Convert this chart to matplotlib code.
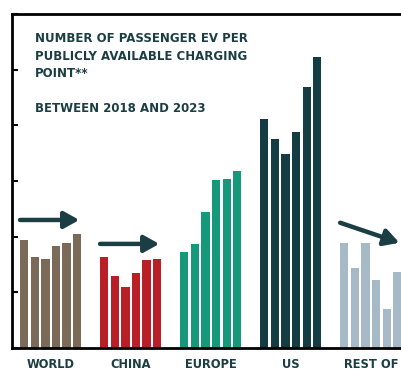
import numpy as np
import matplotlib.pyplot as plt

# Passenger EVs per public charging point, 2018-2023
regions = ["WORLD", "CHINA", "EUROPE", "US", "REST OF"]
world = [9.7, 8.2, 8.0, 9.2, 9.4, 10.2]
china = [8.2, 6.5, 5.5, 6.7, 7.9, 8.0]
europe = [8.6, 9.3, 12.2, 15.1, 15.2, 15.9]
us = [20.6, 18.8, 17.4, 19.4, 23.4, 26.1]
rest = [9.4, 7.2, 9.4, 6.1, 3.5, 6.8]
colors = ["#7b6a58", "#b81f27", "#16997a", "#133d42", "#a6b9c7"]

# trend arrows: (region index, start height, end height)
trends = [(0, 11.5, 11.5), (1, 9.35, 9.35), (4, 11.25, 9.45)]

series = [world, china, europe, us, rest]
group_step = 7.55
bar_w = 0.78
ink = "#1b3e44"

fig = plt.figure(figsize=(4.01, 3.73), dpi=100)
ax = fig.add_axes([12 / 401, 25 / 373, 389 / 401, 334 / 373])

for i, vals in enumerate(series):
    x = i * group_step + np.arange(len(vals))
    ax.bar(x, vals, width=bar_w, color=colors[i])
    ax.text(x.mean(), -0.9, regions[i], ha="center", va="top",
            fontsize=8.3, fontweight="bold", color=ink)

for i, y0, y1 in trends:
    x0 = i * group_step - bar_w / 2
    x1 = i * group_step + 5.2
    ax.annotate("", xy=(x1, y1), xytext=(x0, y0),
                arrowprops=dict(arrowstyle="-|>,head_length=0.9,head_width=0.5",
                                color=ink, lw=3.2, shrinkA=0, shrinkB=0))

ax.set_xlim(-1.15, 35.55)
ax.set_ylim(0, 30)
ax.set_yticks(np.arange(0, 31, 5))
ax.set_xticks([])
ax.tick_params(axis="y", direction="in", length=4, width=1.5, labelleft=False)
for side in ["left", "top", "bottom"]:
    ax.spines[side].set_linewidth(2)
ax.spines["right"].set_visible(False)

ax.text(0.06, 0.945, "NUMBER OF PASSENGER EV PER\nPUBLICLY AVAILABLE CHARGING\nPOINT**\n\nBETWEEN 2018 AND 2023",
        transform=ax.transAxes, ha="left", va="top", fontsize=8.5,
        fontweight="bold", color=ink, linespacing=1.45)

fig.savefig("out.png", dpi=100)
